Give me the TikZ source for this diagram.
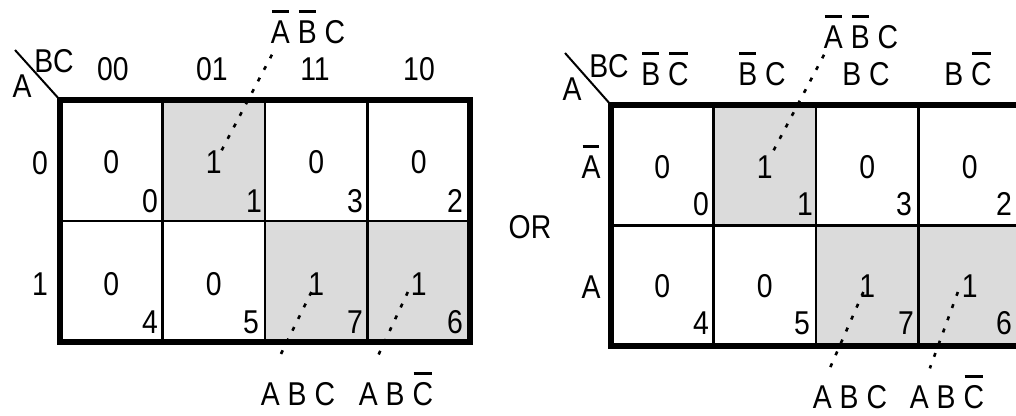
\documentclass[tikz,border=0pt]{standalone}
\usepackage{fontspec}
\setmainfont[FakeStretch=0.86]{Liberation Sans}
\newcommand{\ob}[1]{\setbox0\hbox{#1}\rlap{\kern1pt\raise30pt\hbox{\vrule width\dimexpr\wd0-2pt\relax height 3pt depth 0pt}}\box0}
\newcommand{\lgap}{\hspace{8pt}}
\begin{document}
\begin{tikzpicture}[x=1pt,y=-1pt,
  every node/.style={inner sep=0pt, outer sep=0pt, font=\fontsize{33}{38}\selectfont},
  cell/.style={draw, line width=2.2pt, minimum width=102.5pt, minimum height=121pt, anchor=north west},
  rcell/.style={cell, minimum height=120.5pt},
  oncell/.style={fill=gray!28},
  border/.style={line width=5.5pt},
  txt/.style={anchor=base},
  idx/.style={anchor=base east},
  dotl/.style={line width=2.6pt, dash pattern=on 4pt off 9pt}]
\useasboundingbox (0,0) rectangle (1016,415);
\clip (0,0) rectangle (1016,415);
% ---------------- left map ----------------
\node[cell] (L0) at (60,100) {};
\node[cell,oncell] (L1) at (162.5,100) {};
\node[cell] (L3) at (265,100) {};
\node[cell] (L2) at (367.5,100) {};
\node[cell] (L4) at (60,221) {};
\node[cell] (L5) at (162.5,221) {};
\node[cell,oncell] (L7) at (265,221) {};
\node[cell,oncell] (L6) at (367.5,221) {};
\draw[border] (L0.north west) rectangle (L6.south east);
\coordinate (Lc) at (15,50);
\draw[line width=2pt] (Lc) -- (L0.north west);
\node[txt] (LA) at (22,97) {A};
\node[txt] (LBC) at (54,72) {BC};
\node[txt] (Lh0) at (113,80) {00};
\node[txt] (Lh1) at (212,80) {01};
\node[txt] (Lh3) at (315,80) {11};
\node[txt] (Lh2) at (419,80) {10};
\node[txt] (Lr0) at (40,174) {0};
\node[txt] (Lr1) at (40,295) {1};
% values
\node[txt] (Lv0) at (111.25,173) {0};
\node[txt] (Lv1) at (213.75,173) {1};
\node[txt] (Lv3) at (316.25,173) {0};
\node[txt] (Lv2) at (418.75,173) {0};
\node[txt] (Lv4) at (111.25,295) {0};
\node[txt] (Lv5) at (213.75,295) {0};
\node[txt] (Lv7) at (316.25,295) {1};
\node[txt] (Lv6) at (418.75,295) {1};
% indices
\node[idx] (Li0) at (158,212) {0};
\node[idx] (Li1) at (262,212) {1};
\node[idx] (Li3) at (363,212) {3};
\node[idx] (Li2) at (463,212) {2};
\node[idx] (Li4) at (158,333) {4};
\node[idx] (Li5) at (259,333) {5};
\node[idx] (Li7) at (363,333) {7};
\node[idx] (Li6) at (463,333) {6};
% term labels
\node[txt] (Lt1) at (308,43) {\ob{A}\lgap\ob{B}\lgap C};
\node[txt] (Lb7) at (298,405) {A\lgap B\lgap C};
\node[txt] (Lb6) at (396,405) {A\lgap B\lgap\ob{C}};
\draw[dotl] (Lv1.north east) -- ([shift={(5,4)}]Lt1.south west);
\draw[dotl] ([shift={(3,-3)}]Lv7.south west) -- ([shift={(18,-47)}]Lb7.south west);
\draw[dotl] ([shift={(-3,-3)}]Lv6.south west) -- ([shift={(18,-47)}]Lb6.south west);
% ---------------- OR ----------------
\node[txt] (OR) at (530,238) {OR};
% ---------------- right map ----------------
\node[rcell] (R0) at (611,105) {};
\node[rcell,oncell] (R1) at (713.5,105) {};
\node[rcell] (R3) at (816,105) {};
\node[rcell] (R2) at (918.5,105) {};
\node[rcell] (R4) at (611,225.5) {};
\node[rcell] (R5) at (713.5,225.5) {};
\node[rcell,oncell] (R7) at (816,225.5) {};
\node[rcell,oncell] (R6) at (918.5,225.5) {};
\draw[border] (R0.north west) rectangle (R6.south east);
\coordinate (Rc) at (565,53);
\draw[line width=2pt] (Rc) -- (R0.north west);
\node[txt] (RA) at (572,100) {A};
\node[txt] (RBC) at (609,77) {BC};
\node[txt] (Rh0) at (665,85) {\ob{B}\lgap\ob{C}};
\node[txt] (Rh1) at (762,85) {\ob{B}\lgap C};
\node[txt] (Rh3) at (866,85) {B\lgap C};
\node[txt] (Rh2) at (968,85) {B\lgap\ob{C}};
\node[txt] (Rr0) at (591,178) {\ob{A}};
\node[txt] (Rr1) at (591,298) {A};
% values
\node[txt] (Rv0) at (662.25,178) {0};
\node[txt] (Rv1) at (764.75,178) {1};
\node[txt] (Rv3) at (867.25,178) {0};
\node[txt] (Rv2) at (969.75,178) {0};
\node[txt] (Rv4) at (662.25,297) {0};
\node[txt] (Rv5) at (764.75,297) {0};
\node[txt] (Rv7) at (867.25,297) {1};
\node[txt] (Rv6) at (969.75,297) {1};
% indices
\node[idx] (Ri0) at (709,215) {0};
\node[idx] (Ri1) at (813,215) {1};
\node[idx] (Ri3) at (912,215) {3};
\node[idx] (Ri2) at (1012,215) {2};
\node[idx] (Ri4) at (709,334) {4};
\node[idx] (Ri5) at (810,334) {5};
\node[idx] (Ri7) at (914,334) {7};
\node[idx] (Ri6) at (1012,334) {6};
% term labels
\node[txt] (Rt1) at (861,48) {\ob{A}\lgap\ob{B}\lgap C};
\node[txt] (Rb7) at (850,408) {A\lgap B\lgap C};
\node[txt] (Rb6) at (947,408) {A\lgap B\lgap\ob{C}};
\draw[dotl] ([shift={(1,-5)}]Rv1.north east) -- ([shift={(1,5)}]Rt1.south west);
\draw[dotl] ([shift={(4,-5)}]Rv7.south west) -- ([shift={(17,-40)}]Rb7.south west);
\draw[dotl] ([shift={(-4,-5)}]Rv6.south west) -- ([shift={(20,-40)}]Rb6.south west);
\end{tikzpicture}
\end{document}
